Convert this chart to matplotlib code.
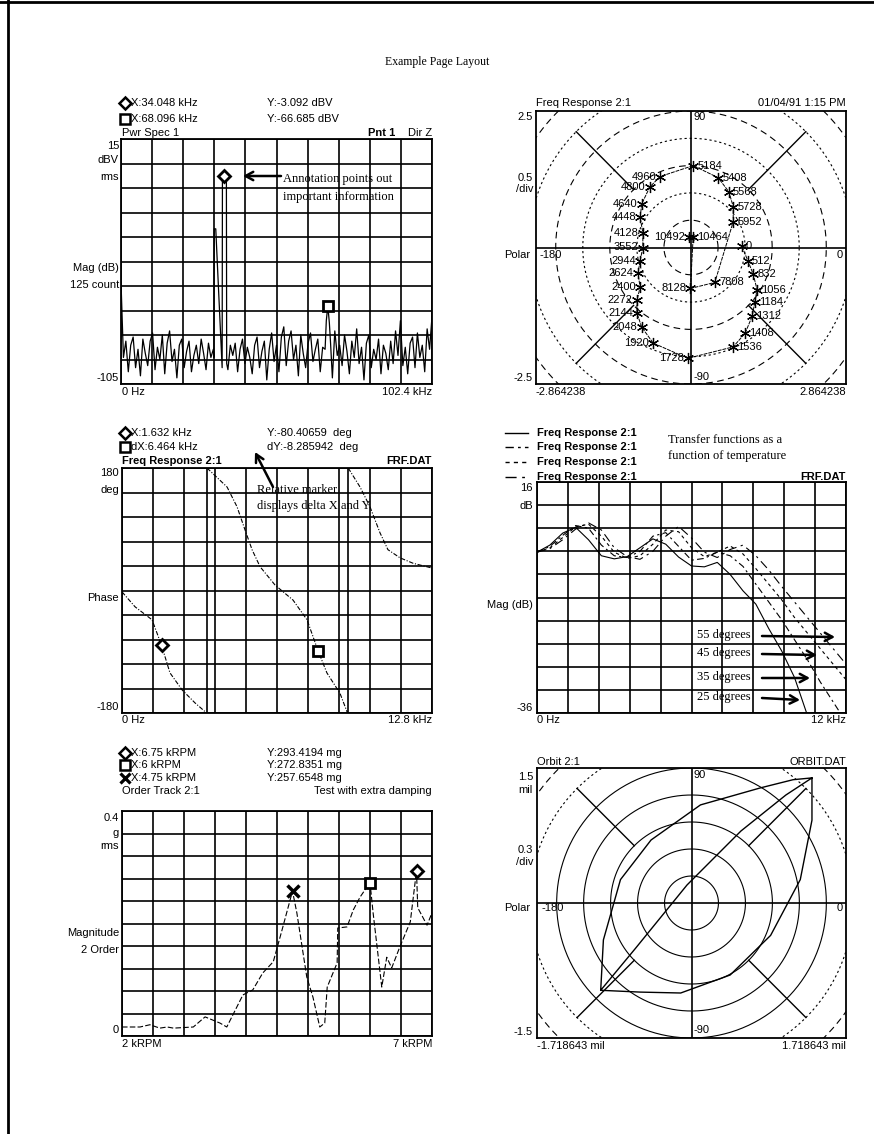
import numpy as np
import matplotlib
matplotlib.use("Agg")
import matplotlib.pyplot as plt

W, H = 874, 1134
plt.rcParams["font.family"] = ["Liberation Sans", "DejaVu Sans"]
SERIF = ["Liberation Serif", "DejaVu Serif"]

# ---- Pwr Spec 1 (kHz, dBV) ----
spec_step = 0.8
spec_noise = [-55, -92, -84, -99, -86, -82, -97, -88, -101, -83, -90,
              -96, -84, -80, -98, -87, -93, -81, -100, -85, -79,
              -94, -88, -102, -86, -83, -97, -89, -84, -99, -91,
              -86, -95, -83, -90, -98, -85, -92, -88, -96, -87,
              -84, -93, -89, -98, -86, -91, -85, -99, -88, -83,
              -95, -87, -92, -100, -86, -82, -97, -89, -84, -103,
              -88, -80, -94, -86, -99, -82, -77, -96, -84, -79,
              -93, -86, -101, -81, -90, -97, -85, -80, -94, -88,
              -83, -99, -87, -80, -95, -84, -102, -79, -91, -86,
              -96, -81, -89, -100, -84, -92, -78, -95, -87, -103,
              -85, -81, -97, -88, -93, -83, -100, -86, -90, -98,
              -84, -95, -79, -91, -74, -96, -87, -100, -85, -82,
              -97, -80, -92, -86, -99, -78, -88, -72]
peak_freq = [30.6, 30.7, 31.2, 33.3, 33.4, 34.048, 34.7, 34.8,
             67.2, 67.6, 68.096, 68.6, 69.0]
peak_db = [-92, -29, -29, -97, -3.1, -3.092, -3.1, -95,
           -88, -74, -66.685, -75, -85]
spec_marker_a = (34.048, -3.092)
spec_marker_b = (68.096, -66.685)

# ---- Freq Response 2:1 polar (real, imag) ----
polar_labels = ["0", "512", "832", "1056", "1184", "1312", "1408", "1536",
                "1728", "1920", "2048", "2144", "2272", "2400", "2624",
                "2944", "3552", "4128", "4448", "4640", "4800", "4960",
                "5184", "5408", "5568", "5728", "5952", "7808", "8128",
                "10464", "10492"]
polar_re = [0.94, 1.05, 1.15, 1.22, 1.18, 1.13, 1.00, 0.78,
            -0.06, -0.70, -0.91, -1.00, -1.00, -0.94, -0.98,
            -0.94, -0.89, -0.89, -0.94, -0.91, -0.76, -0.57,
            0.04, 0.50, 0.70, 0.78, 0.78, 0.44, -0.01,
            0.04, -0.04]
polar_im = [0.02, -0.24, -0.49, -0.77, -1.00, -1.26, -1.57, -1.82,
            -2.03, -1.75, -1.46, -1.20, -0.97, -0.73, -0.47,
            -0.24, 0.00, 0.27, 0.55, 0.80, 1.11, 1.30,
            1.50, 1.28, 1.02, 0.75, 0.47, -0.64, -0.75,
            0.20, 0.20]

# ---- Phase (kHz, deg), three wrapped branches ----
phase_f = [[0.0, 0.54, 1.24, 1.632, 1.98, 2.48, 3.01, 3.43, 3.50],
           [3.51, 4.34, 4.75, 5.08, 5.37, 5.70, 6.32, 7.06, 7.64, 8.096,
            8.46, 9.00, 9.29, 9.33],
           [9.34, 9.83, 10.24, 10.65, 10.98, 11.48, 12.02, 12.8]]
phase_d = [[-2, -24, -43, -80.40659, -121, -146, -165, -178, -180],
           [180, 152, 123, 89, 60, 35, 8, -14, -43, -88.692532,
            -121, -151, -178, -180],
           [180, 152, 123, 85, 60, 48, 40, 33]]
phase_marker_a = (1.632, -80.40659)
phase_marker_b = (8.096, -88.692532)

# ---- Transfer functions vs temperature (kHz, dB) ----
mag_freq = [0, 0.5, 1, 1.5, 2, 2.5, 3, 3.5, 4, 4.5, 5, 5.5, 6, 6.5, 7,
            7.5, 8, 8.5, 9, 9.5, 10, 10.5, 11, 11.5, 12]
mag_25 = [0.2, 1.8, 4.5, 5.8, 3.0, -0.6, -1.3, -0.8, 1.2, 3.2, 2.0, -0.9,
          -2.9, -3.1, -2.1, -4.8, -8.5, -11.5, -17.0, -22.0, -28.0, -36.5,
          -44, -50, -56]
mag_35 = [0.2, 1.5, 4.0, 6.2, 5.6, 1.8, -0.6, -1.0, 0.4, 3.8, 4.6, 1.5,
          -1.6, -1.2, 0.2, -0.6, -3.0, -7.0, -11.0, -15.0, -19.5, -24.0,
          -29.0, -33.5, -38.0]
mag_45 = [0.2, 1.2, 3.5, 5.9, 6.5, 3.8, 0.2, -1.2, -0.6, 2.0, 5.2, 4.8,
          1.2, -0.8, 0.2, 1.6, -0.2, -3.5, -7.0, -10.5, -14.5, -18.0,
          -21.5, -25.0, -28.5]
mag_55 = [0.2, 1.0, 3.0, 5.4, 6.8, 5.2, 1.2, -0.8, -1.4, 0.4, 3.8, 6.0,
          3.4, 0.2, -1.0, 0.8, 1.8, -0.6, -3.8, -7.5, -11.0, -14.5,
          -18.0, -21.5, -25.0]

# ---- Order track (kRPM, g) ----
order_rpm = [2.0, 2.29, 2.45, 2.61, 2.73, 2.83, 3.15, 3.34, 3.58, 3.69,
             3.95, 4.11, 4.27, 4.44, 4.58, 4.75, 4.82, 4.98, 5.08, 5.19,
             5.27, 5.31, 5.47, 5.48, 5.63, 5.73, 5.84, 6.0, 6.05, 6.19,
             6.27, 6.35, 6.48, 6.65, 6.75, 6.77, 6.92, 7.0]
order_g = [0.016, 0.016, 0.020, 0.014, 0.016, 0.014, 0.016, 0.034, 0.023,
           0.016, 0.073, 0.082, 0.112, 0.132, 0.188, 0.2576548, 0.219,
           0.105, 0.069, 0.016, 0.023, 0.087, 0.130, 0.192, 0.194, 0.224,
           0.247, 0.2728351, 0.219, 0.087, 0.140, 0.121, 0.158, 0.203,
           0.2934194, 0.228, 0.197, 0.219]
order_marks = {"D": (6.75, 0.2934194), "s": (6.0, 0.2728351),
               "x": (4.75, 0.2576548)}

# ---- Orbit 2:1 (mil) ----
orbit_x = [-1.01, -0.98, -0.79, -0.45, 0.10, 0.77, 1.13, 1.34, 1.34, 1.21,
           0.88, 0.43, -0.12, -0.57, -1.01, -0.62, -0.05, 0.55, 1.05, 1.34]
orbit_y = [-0.97, -0.41, 0.26, 0.70, 1.09, 1.28, 1.37, 1.39, 0.92, 0.26,
           -0.36, -0.80, -1.00, -0.99, -0.97, -0.50, 0.20, 0.80, 1.20, 1.39]

fig = plt.figure(figsize=(W / 100, H / 100), dpi=100)


def px_axes(l, t, r, b):
    ax = fig.add_axes([l / W, 1 - b / H, (r - l) / W, (b - t) / H])
    for s in ax.spines.values():
        s.set_linewidth(1.3)
    ax.tick_params(length=0, labelbottom=False, labelleft=False)
    return ax


def grid10(ax, x0, x1, y0, y1):
    ax.set_xlim(x0, x1)
    ax.set_ylim(y0, y1)
    ax.set_xticks(np.linspace(x0, x1, 11))
    ax.set_yticks(np.linspace(y0, y1, 11))
    ax.grid(True, color="k", lw=1.2)
    ax.set_axisbelow(True)


def polar_frame(ax, xm, ym, div, solid_upto=0.0):
    ax.set_xlim(-xm, xm)
    ax.set_ylim(-ym, ym)
    ax.set_xticks([])
    ax.set_yticks([])
    ax.axhline(0, color="k", lw=1.2)
    ax.axvline(0, color="k", lw=1.2)
    t = np.linspace(0, 2 * np.pi, 400)
    for k in range(1, 8):
        r = k * div
        if r <= solid_upto + 1e-9:
            ls = "-"
        else:
            ls = (0, (6, 4)) if k % 2 else (0, (2, 2.5))
        ax.plot(r * np.cos(t), r * np.sin(t), color="k", lw=0.8, ls=ls)
    for a in (45, 135, 225, 315):
        c, s = np.cos(np.radians(a)), np.sin(np.radians(a))
        ax.plot([3 * div * c, 6 * div * c], [3 * div * s, 6 * div * s],
                color="k", lw=1.0)


# Pwr Spec 1
ax1 = px_axes(121, 139, 432, 384)
grid10(ax1, 0, 102.4, -105, 15)
nf = np.arange(len(spec_noise)) * spec_step
keep = ~(((nf > 30.5) & (nf < 34.9)) | ((nf > 67.1) & (nf < 69.1)))
sf = np.concatenate([nf[keep], peak_freq])
sd = np.concatenate([np.array(spec_noise, float)[keep], peak_db])
order = np.argsort(sf, kind="stable")
ax1.plot(sf[order], sd[order], color="k", lw=0.9)
ax1.plot(*spec_marker_a, marker="D", ms=6, mfc="white", mec="k", mew=2)
ax1.plot(*spec_marker_b, marker="s", ms=7, mfc="white", mec="k", mew=2)

# Freq Response polar
ax2 = px_axes(536, 111, 846, 384)
polar_frame(ax2, 2.864238, 2.5, 0.5)
ax2.plot(polar_re, polar_im, color="k", lw=0.7, ls=(0, (4, 1)))
ax2.plot(polar_re, polar_im, ls="none", marker=(6, 2, 0), ms=8, mec="k", mew=0.9)
for lab, x, y in zip(polar_labels, polar_re, polar_im):
    left = x < 0
    ax2.annotate(lab, (x, y), xytext=(-3 if left else 3, 0),
                 textcoords="offset points", ha="right" if left else "left",
                 va="center", fontsize=8)

# Phase
ax3 = px_axes(122, 468, 432, 713)
grid10(ax3, 0, 12.8, -180, 180)
for f, d in zip(phase_f, phase_d):
    ax3.plot(f, d, color="k", lw=0.8, ls=(0, (4, 1.5, 1, 1.5)))
for f in (phase_f[0][-1], phase_f[1][-1]):
    ax3.plot([f, f], [-180, 180], color="k", lw=1.2)
ax3.plot(*phase_marker_a, marker="D", ms=6, mfc="white", mec="k", mew=2)
ax3.plot(*phase_marker_b, marker="s", ms=7, mfc="white", mec="k", mew=2)

# Transfer functions
ax4 = px_axes(537, 482, 846, 713)
grid10(ax4, 0, 12, -36, 16)
mag_styles = ["-", (0, (6, 3, 2, 3)), (0, (3, 3)), (0, (8, 4, 2, 4))]
for vals, ls in zip([mag_25, mag_35, mag_45, mag_55], mag_styles):
    ax4.plot(mag_freq, vals, color="k", lw=0.8, ls=ls)

# Order track
ax5 = px_axes(122, 811, 432, 1036)
grid10(ax5, 2, 7, 0, 0.4)
ax5.plot(order_rpm, order_g, color="k", lw=0.8, ls=(0, (5, 2)))
for m, (x, y) in order_marks.items():
    if m == "x":
        ax5.plot(x, y, marker="x", ms=8, mec="k", mew=2.5)
    else:
        ax5.plot(x, y, marker=m, ms=6 if m == "D" else 7, mfc="white",
                 mec="k", mew=2)

# Orbit
ax6 = px_axes(537, 768, 846, 1038)
polar_frame(ax6, 1.718643, 1.5, 0.3, solid_upto=1.5)
ax6.plot(orbit_x, orbit_y, color="k", lw=1.0)

# Page texts and annotations
ov = fig.add_axes([0, 0, 1, 1])
ov.set_xlim(0, W)
ov.set_ylim(H, 0)
ov.axis("off")
ov.plot([8, 8], [0, H], color="k", lw=2)
ov.plot([0, W], [2, 2], color="k", lw=2)


def txt(x, y, s, ha="left", size=8, **kw):
    ov.text(x, y, s, ha=ha, va="center", fontsize=size, **kw)


def key(x, y, m):
    if m == "x":
        ov.plot(x, y, marker="x", ms=7, mec="k", mew=2.3)
    else:
        ov.plot(x, y, marker=m, ms=6 if m == "D" else 7, mfc="white",
                mec="k", mew=1.8)


def arrow(tail, head):
    ov.annotate("", xy=head, xytext=tail,
                arrowprops=dict(arrowstyle="->,head_length=0.55,head_width=0.3",
                                lw=1.8, color="k", shrinkA=0, shrinkB=0))


txt(437, 62, "Example Page Layout", ha="center", size=8.5, family=SERIF)

# panel 1 texts
key(125, 103, "D"); key(125, 119, "s")
txt(131, 103, "X:34.048 kHz"); txt(267, 103, "Y:-3.092 dBV")
txt(131, 119, "X:68.096 kHz"); txt(267, 119, "Y:-66.685 dBV")
txt(122, 133, "Pwr Spec 1")
txt(395, 133, "Pnt 1", ha="right", weight="bold")
txt(432, 133, "Dir Z", ha="right")
for s, y in [("15", 146), ("dBV", 160), ("rms", 177), ("Mag (dB)", 268),
             ("125 count", 285), ("-105", 378)]:
    txt(119, y, s, ha="right")
txt(122, 392, "0 Hz"); txt(432, 392, "102.4 kHz", ha="right")
txt(283, 179, "Annotation points out", size=9, family=SERIF)
txt(283, 197, "important information", size=9, family=SERIF)
arrow((281, 176), (243, 176))

# panel 2 texts
txt(536, 103, "Freq Response 2:1"); txt(846, 103, "01/04/91 1:15 PM", ha="right")
for s, y in [("2.5", 117), ("0.5", 178), ("/div", 189), ("-2.5", 378)]:
    txt(533, y, s, ha="right")
txt(530, 255, "Polar", ha="right")
txt(540, 255, "-180"); txt(843, 255, "0", ha="right")
txt(694, 117, "90"); txt(694, 377, "-90")
txt(536, 392, "-2.864238"); txt(846, 392, "2.864238", ha="right")

# panel 3 texts
key(125, 433, "D"); key(125, 447, "s")
txt(131, 433, "X:1.632 kHz"); txt(267, 433, "Y:-80.40659  deg")
txt(131, 447, "dX:6.464 kHz"); txt(267, 447, "dY:-8.285942  deg")
txt(122, 461, "Freq Response 2:1", weight="bold")
txt(432, 461, "FRF.DAT", ha="right", weight="bold")
for s, y in [("180", 473), ("deg", 490), ("Phase", 598), ("-180", 707)]:
    txt(119, y, s, ha="right")
txt(122, 720, "0 Hz"); txt(432, 720, "12.8 kHz", ha="right")
txt(257, 490, "Relative marker", size=9, family=SERIF)
txt(257, 506, "displays delta X and Y", size=9, family=SERIF)
arrow((273, 487), (255, 452))

# panel 4 texts
for y, ls in zip([433, 447, 462, 477], mag_styles):
    ov.plot([505, 528], [y, y], color="k", lw=1.0, ls=ls)
    txt(537, y, "Freq Response 2:1", weight="bold")
txt(846, 477, "FRF.DAT", ha="right", weight="bold")
txt(668, 440, "Transfer functions as a", size=9, family=SERIF)
txt(668, 456, "function of temperature", size=9, family=SERIF)
for s, y in [("16", 488), ("dB", 506), ("Mag (dB)", 605), ("-36", 708)]:
    txt(533, y, s, ha="right")
txt(537, 720, "0 Hz"); txt(846, 720, "12 kHz", ha="right")
for s, y, head in [("55 degrees", 635, (835, 637)), ("45 degrees", 653, (817, 655)),
                   ("35 degrees", 677, (810, 678)), ("25 degrees", 697, (800, 700))]:
    txt(697, y, s, size=9, family=SERIF)
    arrow((762, y + 1), head)

# panel 5 texts
key(125, 753, "D"); key(125, 765, "s"); key(125, 778, "x")
txt(131, 753, "X:6.75 kRPM"); txt(267, 753, "Y:293.4194 mg")
txt(131, 765, "X:6 kRPM"); txt(267, 765, "Y:272.8351 mg")
txt(131, 778, "X:4.75 kRPM"); txt(267, 778, "Y:257.6548 mg")
txt(122, 791, "Order Track 2:1"); txt(432, 791, "Test with extra damping", ha="right")
for s, y in [("0.4", 818), ("g", 833), ("rms", 846), ("Magnitude", 933),
             ("2 Order", 950), ("0", 1030)]:
    txt(119, y, s, ha="right")
txt(122, 1044, "2 kRPM"); txt(432, 1044, "7 kRPM", ha="right")

# panel 6 texts
txt(537, 762, "Orbit 2:1"); txt(846, 762, "ORBIT.DAT", ha="right")
for s, y in [("1.5", 777), ("mil", 790), ("0.3", 850), ("/div", 862), ("-1.5", 1032)]:
    txt(533, y, s, ha="right")
txt(530, 908, "Polar", ha="right")
txt(541, 908, "-180"); txt(843, 908, "0", ha="right")
txt(694, 775, "90"); txt(694, 1030, "-90")
txt(537, 1046, "-1.718643 mil"); txt(846, 1046, "1.718643 mil", ha="right")

fig.savefig("out.png", dpi=100, facecolor="white")
